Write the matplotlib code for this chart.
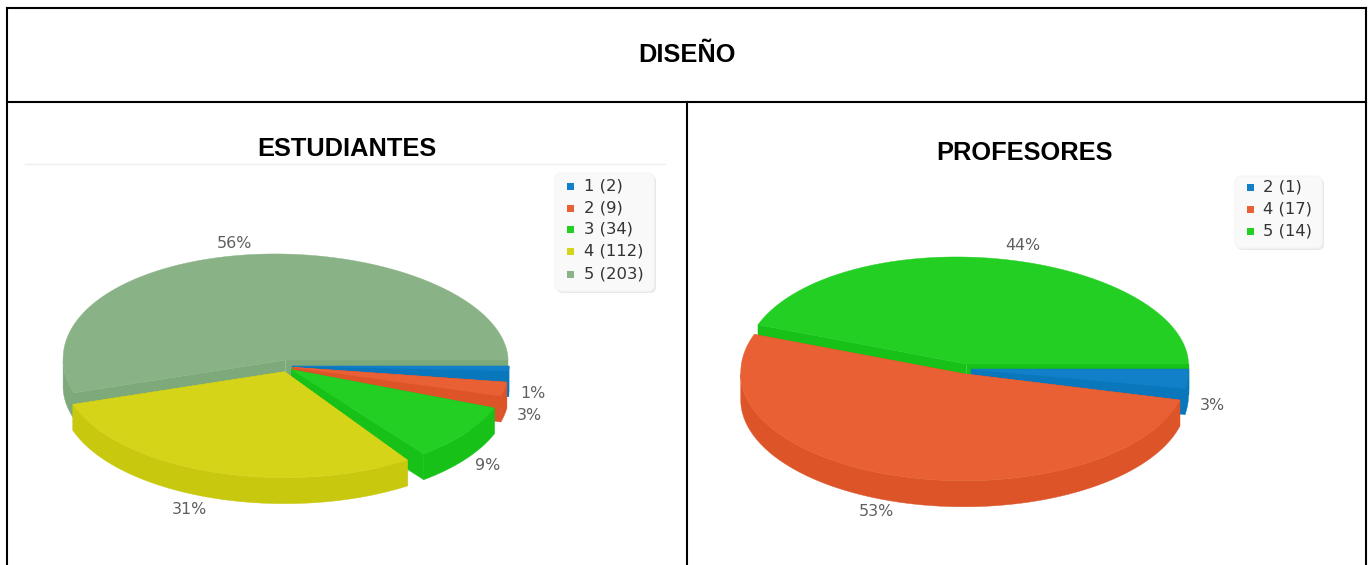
import math
import numpy as np
import matplotlib
matplotlib.use("Agg")
import matplotlib.pyplot as plt
from matplotlib.patches import Polygon, FancyBboxPatch, Rectangle

main_title = "DISEÑO"
student_title = "ESTUDIANTES"
teacher_title = "PROFESORES"
student_categories = ["1", "2", "3", "4", "5"]
student_values = [2, 9, 34, 112, 203]
teacher_categories = ["2", "4", "5"]
teacher_values = [1, 17, 14]

BLUE = ("#1280c8", "#0a76bc")
ORANGE = ("#e86033", "#dc5428")
GREEN = ("#22cf22", "#17c117")
YELLOW = ("#d5d418", "#c8c80e")
SAGE = ("#89b286", "#7ea97b")
student_colors = [BLUE, ORANGE, GREEN, YELLOW, SAGE]
teacher_colors = [BLUE, ORANGE, GREEN]

SANS = ["Liberation Sans", "DejaVu Sans"]
LABEL_FONT = "DejaVu Sans"

fig = plt.figure(figsize=(13.71, 5.65), dpi=100, facecolor="white")
ax = fig.add_axes([0, 0, 1, 1])
ax.set_xlim(0, 1371)
ax.set_ylim(565, 0)
ax.axis("off")


def pct(v, total):
    return f"{math.floor(100 * v / total + 0.5)}%"


def pie3d(values, colors, cx, cy, rx, ry, depth, dx, dy, persp_in, persp_out, gap):
    """Exploded pie. persp_in/out: view-angle map of the perspective projection."""
    total = sum(values)
    cum = np.concatenate([[0], np.cumsum(values)]) * 360.0 / total
    order = [len(values) - 1] + list(range(len(values) - 1))

    def view(theta, sign):
        w = np.interp(theta, persp_in, persp_out)
        return w + sign * gap * max(math.cos(math.radians(theta)), 0.0) if 0 < theta < 360 else w

    for idx in order:
        a0, a1 = view(cum[idx], 1), view(cum[idx + 1], -1)
        mid = math.radians((a0 + a1) / 2)
        ox = cx + dx * math.cos(mid)
        oy = cy + dy * math.sin(mid)
        r = rx - dx * max(math.cos(mid), 0.0)
        t = np.radians(np.linspace(a0, a1, 240))
        px = ox + r * np.cos(t)
        py = oy + ry * np.sin(t)
        upper = np.sin(t) < 0
        py[upper] += 5 * np.cos(t[upper]) * np.sqrt(np.abs(np.sin(t[upper])))
        top, side = colors[idx]
        z = 2 + order.index(idx) * 0.1
        for k in (0, -1):
            wall = [(ox, oy), (px[k], py[k]), (px[k], py[k] + depth), (ox, oy + depth)]
            ax.add_patch(Polygon(wall, closed=True, fc=side, ec=side, lw=0.3, zorder=z))
        m = np.sin(t) > 0
        if m.any():
            rim = list(zip(px[m], py[m])) + list(zip(px[m][::-1], py[m][::-1] + depth))
            ax.add_patch(Polygon(rim, closed=True, fc=side, ec=side, lw=0.3, zorder=z))
        face = [(ox, oy)] + list(zip(px, py))
        ax.add_patch(Polygon(face, closed=True, fc=top, ec=top, lw=0.3, zorder=z + 0.01))


def legend(cats, values, colors, box, marker_x, text_x, rows):
    x0, y0, x1, y1 = box
    for off, col in ((2.0, "#e8e8e8"), (1.0, "#f0f0f0")):
        ax.add_patch(FancyBboxPatch((x0 + off, y0 + off), x1 - x0, y1 - y0,
                                    boxstyle="round,pad=0,rounding_size=6",
                                    fc=col, ec="none", zorder=5))
    ax.add_patch(FancyBboxPatch((x0, y0), x1 - x0, y1 - y0,
                                boxstyle="round,pad=0,rounding_size=6",
                                fc="#f9f9f9", ec="#f4f4f4", lw=0.6, zorder=5.1))
    for c, v, col, y in zip(cats, values, colors, rows):
        ax.add_patch(Rectangle((marker_x - 3.5, y - 3.5), 7, 7, fc=col[0], ec="none", zorder=6))
        ax.text(text_x, y, f"{c} ({v})", family=LABEL_FONT, fontsize=11.8, color="#333333",
                ha="left", va="center", zorder=6)


def slice_labels(values, spots):
    total = sum(values)
    for v, (x, y) in zip(values, spots):
        ax.text(x, y, pct(v, total), family=LABEL_FONT, fontsize=11.4, color="#5f5f5f",
                ha="center", va="center", zorder=7)


for xs, ys in (((7, 7), (8, 565)), ((1366, 1366), (8, 565)), ((7, 1366), (8, 8)),
               ((7, 1366), (102, 102)), ((687, 687), (102, 565))):
    ax.plot(xs, ys, color="black", lw=1.5, solid_capstyle="projecting", zorder=1)

ax.text(687, 55.5, main_title, family=SANS, fontsize=18.3, fontweight="bold",
        ha="center", va="center", color="black")
ax.text(347, 149.5, student_title, family=SANS, fontsize=18.3, fontweight="bold",
        ha="center", va="center", color="black")
ax.text(1025, 153.5, teacher_title, family=SANS, fontsize=18.3, fontweight="bold",
        ha="center", va="center", color="black")
ax.plot([25, 665], [163.5, 163.5], color="#eeeeee", lw=1, zorder=1)

pie3d(student_values, student_colors, 286.5, 366, 222.5, 106, 26, 6, 6,
      [0, 2, 11, 45, 157, 360], [0, 5.3, 18.5, 54.5, 162, 360], 2.8)
pie3d(teacher_values, teacher_colors, 965.5, 369, 223, 107, 26, 6, 5,
      [0, 11.25, 202.5, 360], [0, 12.25, 200, 360], 2.0)

legend(student_categories, student_values, student_colors, (555, 173, 654, 291), 570, 584,
       [186, 208, 229, 251, 274])
legend(teacher_categories, teacher_values, teacher_colors, (1235, 176, 1322, 248), 1250, 1263,
       [187, 209, 231])

slice_labels(student_values, [(533, 394), (529, 416), (488, 466), (189, 509), (234, 244)])
slice_labels(teacher_values, [(1212, 405), (876, 512), (1023, 246)])

fig.savefig("out.png", dpi=100, facecolor="white")
